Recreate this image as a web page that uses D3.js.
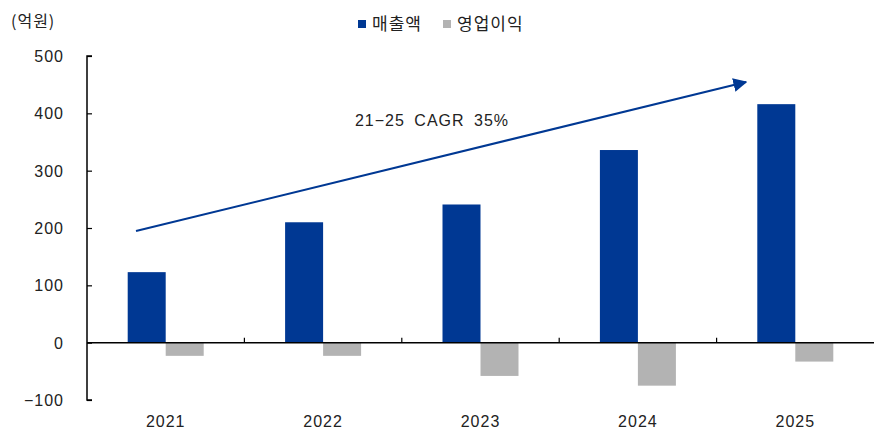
<!DOCTYPE html>
<html>
<head>
  <style>
    body, html { margin: 0; padding: 0; background: #fff; }
    text { font-family: "Liberation Sans", Arial, "Noto Sans CJK KR", sans-serif; fill: #222; }
    .kr { font-family: "Noto Sans CJK KR", sans-serif; letter-spacing: 1px; }
  </style>
</head>
<body>
  <svg id="svg" width="875" height="430"></svg>
  <script src="https://d3js.org/d3.v7.min.js"></script>
  <script>
    const years = ['2021', '2022', '2023', '2024', '2025']
    const sales = [123, 210, 241, 336, 416]
    const opProfit = [-23, -23, -58, -75, -33]
    const yTicks = [-100, 0, 100, 200, 300, 400, 500]
    const seriesNames = ['매출액', '영업이익']
    const colors = ['#003893', '#b3b3b3']

    const svg = d3.select('#svg')
    const plotLeft = 87, plotRight = 874, plotTop = 56, plotBottom = 400

    const x = d3.scaleBand().domain(years).range([plotLeft, plotRight])
    const y = d3.scaleLinear().domain([-100, 500]).range([plotBottom, plotTop])
    const barW = 38

    // bars
    svg.append('g').selectAll('rect').data(years).join('rect')
      .attr('x', d => x(d) + x.bandwidth() / 2 - barW)
      .attr('y', (d, i) => y(sales[i]))
      .attr('width', barW)
      .attr('height', (d, i) => y(0) - y(sales[i]))
      .attr('fill', colors[0])

    svg.append('g').selectAll('rect').data(years).join('rect')
      .attr('x', d => x(d) + x.bandwidth() / 2)
      .attr('y', y(0))
      .attr('width', barW)
      .attr('height', (d, i) => y(opProfit[i]) - y(0))
      .attr('fill', colors[1])

    // y axis
    const yAxis = d3.axisRight(y).tickValues(yTicks).tickSize(5).tickFormat(d => d < 0 ? '\u2212' + Math.abs(d) : d)
    const ya = svg.append('g').attr('transform', `translate(${plotLeft},0)`).call(yAxis)
    ya.select('.domain').attr('d', `M5,${plotTop}H0V${plotBottom}H5`).attr('stroke', '#000').attr('stroke-width', 1.5)
    ya.selectAll('.tick line').attr('stroke', '#000').attr('stroke-width', 1.2)
    ya.selectAll('.tick text').attr('x', -23).attr('dy', '0.35em').attr('text-anchor', 'end').attr('font-size', 16)
      .style('font-family', '"Liberation Sans", Arial, sans-serif').style('letter-spacing', '1px').attr('fill', '#222')

    // zero line with category ticks
    svg.append('line').attr('x1', plotLeft).attr('x2', plotRight).attr('y1', y(0)).attr('y2', y(0))
      .attr('stroke', '#000').attr('stroke-width', 1.5)
    svg.append('g').selectAll('line').data(years.slice(1)).join('line')
      .attr('x1', d => x(d)).attr('x2', d => x(d))
      .attr('y1', y(0)).attr('y2', y(0) - 5)
      .attr('stroke', '#000').attr('stroke-width', 1.2)

    // category labels
    svg.append('g').selectAll('text').data(years).join('text')
      .attr('x', d => x(d) + x.bandwidth() / 2)
      .attr('y', 427)
      .attr('text-anchor', 'middle')
      .attr('font-size', 16)
      .style('letter-spacing', '1px')
      .text(d => d)

    // unit label
    svg.append('text').attr('class', 'kr').attr('x', 11).attr('y', 27).attr('font-size', 16).text('(억원)')

    // legend
    const legendX = [358, 443]
    seriesNames.forEach((name, i) => {
      svg.append('rect').attr('x', legendX[i]).attr('y', 20).attr('width', 8).attr('height', 8).attr('fill', colors[i])
      svg.append('text').attr('class', 'kr').attr('x', legendX[i] + 14).attr('y', 30).attr('font-size', 17).text(name)
    })

    // CAGR arrow
    svg.append('defs').append('marker')
      .attr('id', 'arrow').attr('viewBox', '0 0 10 10').attr('refX', 9).attr('refY', 5)
      .attr('markerWidth', 7).attr('markerHeight', 7).attr('markerUnits', 'strokeWidth')
      .attr('orient', 'auto')
      .append('path').attr('d', 'M0,0L10,5L0,10Z').attr('fill', colors[0])
    svg.append('line')
      .attr('x1', 136).attr('y1', 231).attr('x2', 746).attr('y2', 82)
      .attr('stroke', colors[0]).attr('stroke-width', 2).attr('marker-end', 'url(#arrow)')
    svg.append('text').attr('x', 432).attr('y', 126).attr('text-anchor', 'middle').attr('font-size', 16)
      .style('letter-spacing', '1px').style('word-spacing', '4px')
      .text('21\u221225 CAGR 35%')
  </script>
</body>
</html>
